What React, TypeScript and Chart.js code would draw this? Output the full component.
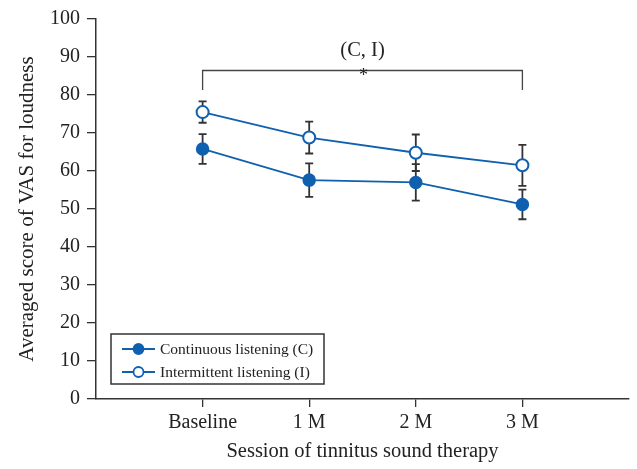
import React, { useEffect, useRef } from 'react';
import { Chart, registerables } from 'chart.js';

Chart.register(...registerables);

// ---- data ----
const sessions = ['Baseline', '1 M', '2 M', '3 M'];
const continuousMean = [65.8, 57.6, 57.0, 51.2];
const continuousErr = [3.9, 4.4, 4.8, 3.9];
const intermittentMean = [75.5, 68.8, 64.8, 61.5];
const intermittentErr = [2.8, 4.2, 4.8, 5.4];
const seriesNames = ['Continuous listening (C)', 'Intermittent listening (I)'];
const yTickValues = [0, 10, 20, 30, 40, 50, 60, 70, 80, 90, 100];
const bracketLabel = '(C, I)';
const bracketMark = '*';
const bracketLevel = 86.5;
const bracketDrop = 81.3;
const bracketLabelLevel = 91.6;

const FONT = "'Liberation Serif', 'Times New Roman', serif";
const BLUE = '#1060b0';
const INK = '#222';

const errorBarPlugin = {
  id: 'errorBars',
  beforeDatasetsDraw(chart: any) {
    const { ctx, scales } = chart;
    const xs = scales.x;
    const ys = scales.y;
    const sets = [
      { mean: continuousMean, err: continuousErr },
      { mean: intermittentMean, err: intermittentErr },
    ];
    ctx.save();
    ctx.strokeStyle = '#333';
    ctx.lineWidth = 1.8;
    sets.forEach((s) => {
      s.mean.forEach((m, i) => {
        const x = xs.getPixelForValue(i);
        const yTop = ys.getPixelForValue(m + s.err[i]);
        const yBot = ys.getPixelForValue(m - s.err[i]);
        ctx.beginPath();
        ctx.moveTo(x, yTop);
        ctx.lineTo(x, yBot);
        ctx.moveTo(x - 4, yTop);
        ctx.lineTo(x + 4, yTop);
        ctx.moveTo(x - 4, yBot);
        ctx.lineTo(x + 4, yBot);
        ctx.stroke();
      });
    });
    ctx.restore();
  },
};

const annotationPlugin = {
  id: 'bracketAndLegend',
  afterDraw(chart: any) {
    const { ctx, scales } = chart;
    const xs = scales.x;
    const ys = scales.y;
    ctx.save();
    // bracket
    const x0 = xs.getPixelForValue(0);
    const x1 = xs.getPixelForValue(sessions.length - 1);
    const yb = Math.round(ys.getPixelForValue(bracketLevel)) + 0.5;
    const yd = ys.getPixelForValue(bracketDrop);
    ctx.strokeStyle = '#444';
    ctx.lineWidth = 1.3;
    ctx.beginPath();
    ctx.moveTo(x0, yd);
    ctx.lineTo(x0, yb);
    ctx.lineTo(x1, yb);
    ctx.lineTo(x1, yd);
    ctx.stroke();
    ctx.fillStyle = INK;
    ctx.textAlign = 'center';
    ctx.textBaseline = 'middle';
    ctx.font = `20.5px ${FONT}`;
    ctx.fillText(bracketLabel, (x0 + x1) / 2, ys.getPixelForValue(bracketLabelLevel));
    ctx.font = `18px ${FONT}`;
    ctx.fillText(bracketMark, (x0 + x1) / 2 + 1, yb + 6);

    // legend
    const bx = 111, by = 334, bw = 213, bh = 50;
    ctx.fillStyle = '#fff';
    ctx.fillRect(bx, by, bw, bh);
    ctx.strokeStyle = '#333';
    ctx.lineWidth = 1.5;
    ctx.strokeRect(bx, by, bw, bh);
    const rows = [by + 15, by + 38];
    seriesNames.forEach((name, i) => {
      const y = rows[i];
      ctx.strokeStyle = BLUE;
      ctx.lineWidth = 1.8;
      ctx.beginPath();
      ctx.moveTo(bx + 11, y);
      ctx.lineTo(bx + 44, y);
      ctx.stroke();
      ctx.beginPath();
      ctx.arc(bx + 27.5, y, 5, 0, Math.PI * 2);
      ctx.fillStyle = i === 0 ? BLUE : '#fff';
      ctx.fill();
      ctx.stroke();
      ctx.fillStyle = INK;
      ctx.textAlign = 'left';
      ctx.textBaseline = 'middle';
      ctx.font = `15.5px ${FONT}`;
      ctx.fillText(name, bx + 49, y + 1);
    });
    ctx.restore();
  },
};

export default function App() {
  const ref = useRef<HTMLCanvasElement>(null);
  useEffect(() => {
    document.body.style.margin = '0';
    const canvas = ref.current!;
    const chart = new Chart(canvas, {
      type: 'line',
      data: {
        datasets: [
          {
            label: seriesNames[0],
            data: continuousMean.map((v, i) => ({ x: i, y: v })),
            borderColor: BLUE,
            backgroundColor: BLUE,
            pointBackgroundColor: BLUE,
            pointBorderColor: BLUE,
            pointRadius: 6,
            pointBorderWidth: 1.5,
            borderWidth: 1.8,
          },
          {
            label: seriesNames[1],
            data: intermittentMean.map((v, i) => ({ x: i, y: v })),
            borderColor: BLUE,
            backgroundColor: '#fff',
            pointBackgroundColor: '#fff',
            pointBorderColor: BLUE,
            pointRadius: 6,
            pointBorderWidth: 2,
            borderWidth: 1.8,
          },
        ],
      },
      options: {
        responsive: false,
        animation: false,
        layout: { padding: { top: 14, right: 5, left: 0, bottom: 0 } },
        plugins: { legend: { display: false }, tooltip: { enabled: false } },
        scales: {
          x: {
            type: 'linear',
            min: -1,
            max: sessions.length,
            afterBuildTicks: (scale: any) => {
              scale.ticks = sessions.map((_, i) => ({ value: i }));
            },
            afterFit: (scale: any) => {
              scale.height = 70;
            },
            ticks: {
              callback: (v: any) => sessions[v] ?? '',
              color: INK,
              font: { family: FONT, size: 20 },
              padding: 4,
              maxRotation: 0,
              autoSkip: false,
            },
            grid: { drawOnChartArea: false, drawTicks: true, tickLength: 8, color: '#333', lineWidth: 1.3 },
            border: { display: true, color: '#333', width: 1.5 },
            title: {
              display: true,
              text: 'Session of tinnitus sound therapy',
              color: INK,
              font: { family: FONT, size: 20.5 },
              padding: { top: 0, bottom: 5 },
            },
          },
          y: {
            type: 'linear',
            min: 0,
            max: 100,
            afterBuildTicks: (scale: any) => {
              scale.ticks = yTickValues.map((v) => ({ value: v }));
            },
            afterFit: (scale: any) => {
              scale.width = 96;
            },
            ticks: {
              color: INK,
              font: { family: FONT, size: 20 },
              padding: 7,
            },
            grid: { drawOnChartArea: false, drawTicks: true, tickLength: 9, color: '#333', lineWidth: 1.3 },
            border: { display: true, color: '#333', width: 1.5 },
            title: {
              display: true,
              text: 'Averaged score of VAS for loudness',
              color: INK,
              font: { family: FONT, size: 21 },
              padding: { top: 15, bottom: 0 },
            },
          },
        },
      },
      plugins: [errorBarPlugin, annotationPlugin],
    });
    return () => chart.destroy();
  }, []);
  return <canvas ref={ref} width={637} height={469} style={{ display: 'block' }} />;
}
